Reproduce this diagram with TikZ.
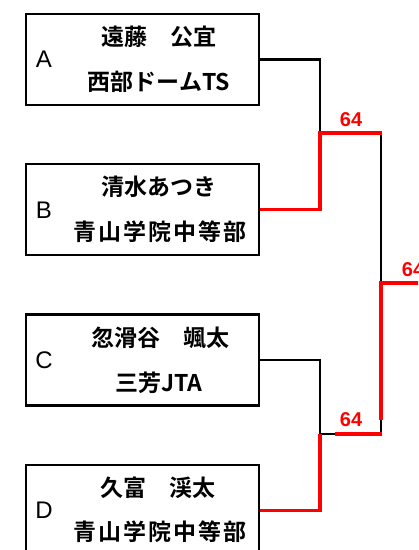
\documentclass[tikz,border=0pt]{standalone}
\usepackage{fontspec}
\setmainfont{Liberation Sans}
\newfontfamily\jp[BoldFont={Noto Sans CJK JP Bold}]{Noto Sans CJK JP}
\begin{document}
\begin{tikzpicture}[x=1bp,y=-1bp,
  entry/.style={draw=black,line width=2.5bp,minimum width=233bp,minimum height=91bp,inner sep=0pt},
  seed/.style={inner sep=0pt,font=\fontsize{24bp}{24bp}\selectfont},
  jtext/.style={inner sep=0pt,font=\jp\bfseries\fontsize{23bp}{23bp}\selectfont},
  wide/.style={font=\jp\bfseries\fontsize{23bp}{23bp}\selectfont\addfontfeature{LetterSpace=9}},
  score/.style={inner sep=0pt,text=red,font=\bfseries\fontsize{20bp}{20bp}\selectfont},
  lose/.style={draw=black,line width=2.5bp},
  win/.style={draw=red,line width=3.5bp}]
\useasboundingbox (0,0) rectangle (418,550);
\clip (0,0) rectangle (418,550);
% boxes
\node[entry] (bA) at (142.5,59.5) {};
\node[entry] (bB) at (142.5,209.5) {};
\node[entry] (bC) at (142.5,360) {};
\node[entry] (bD) at (142.5,510.5) {};
% letters
\node[seed] (lA) at (44,59) {A};
\node[seed] (lB) at (44,210) {B};
\node[seed] (lC) at (44,360) {C};
\node[seed] (lD) at (44,510) {D};
% names
\node[jtext] (nA) at (159,37) {遠藤　公宜};
\node[jtext] (tA) at (159,82) {西部ドームTS};
\node[jtext] (nB) at (159,187) {清水あつき};
\node[jtext,wide] (tB) at (160,232) {青山学院中等部};
\node[jtext] (nC) at (160,338) {忽滑谷　颯太};
\node[jtext] (tC) at (159,383) {三芳JTA};
\node[jtext] (nD) at (158,488) {久富　渓太};
\node[jtext,wide] (tD) at (160,532) {青山学院中等部};
% junction coordinates
\coordinate (a1) at (320,59.5);
\coordinate (b1) at (320,209.5);
\coordinate (j1) at (320,133);
\coordinate (j1r) at (381,133);
\coordinate (c1) at (320,360);
\coordinate (d1) at (320,510.5);
\coordinate (j2) at (320,434);
\coordinate (j2m) at (335,434);
\coordinate (j2r) at (381,434);
\coordinate (k) at (381,283);
\coordinate (kr) at (420,283);
\coordinate (kc) at (381,420);
% connectors
\draw[lose] (bA.east |- a1) -- (a1) -- (j1);
\draw[lose] (j1r) -- (k);
\draw[win] (bB.east |- b1) -- (b1) -- (j1) -- ([xshift=1bp]j1r);
\draw[lose] (bC.east |- c1) -- (c1) -- (j2) -- (j2m);
\draw[lose] (kc) -- (j2r);
\draw[win] (bD.east |- d1) -- (d1) -- (j2);
\draw[win] (j2m) -- ([xshift=1bp]j2r);
\draw[win] (kc) -- (k) -- (kr);
% scores
\node[score] (s1) at (351,120) {64};
\node[score] (s2) at (351,420) {64};
\node[score] (s3) at (413,270) {64};
\end{tikzpicture}
\end{document}
